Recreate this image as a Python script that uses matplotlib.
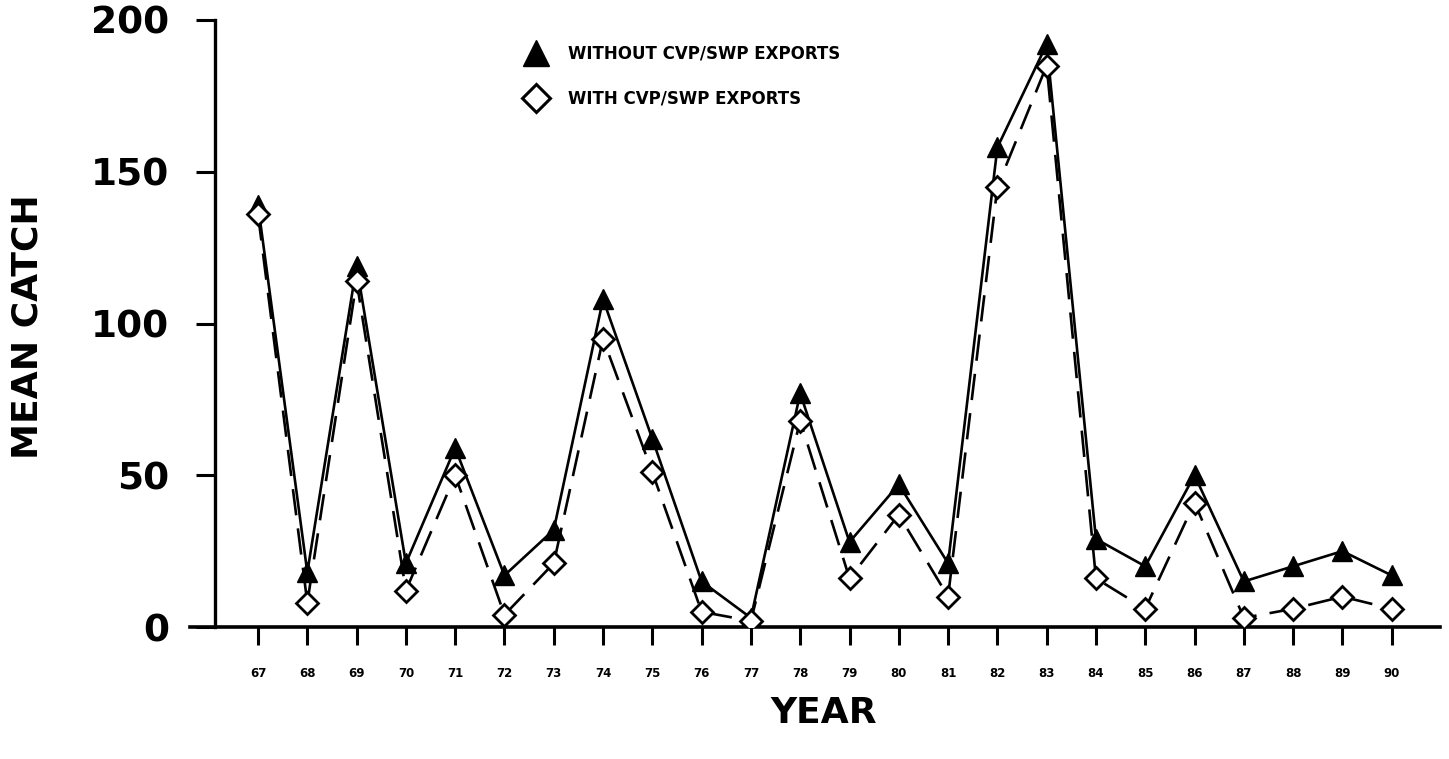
import matplotlib
matplotlib.use("Agg")
import matplotlib.pyplot as plt
from matplotlib.lines import Line2D

years = [67, 68, 69, 70, 71, 72, 73, 74, 75, 76, 77, 78,
         79, 80, 81, 82, 83, 84, 85, 86, 87, 88, 89, 90]
year_labels = [str(y) for y in years]
without_exports = [139, 18, 119, 21, 59, 17, 32, 108, 62, 15, 3, 77,
                   28, 47, 21, 158, 192, 29, 20, 50, 15, 20, 25, 17]
with_exports = [136, 8, 114, 12, 50, 4, 21, 95, 51, 5, 2, 68,
                16, 37, 10, 145, 185, 16, 6, 41, 3, 6, 10, 6]
y_ticks = [0, 50, 100, 150, 200]

W, H = 1449, 759
fig = plt.figure(figsize=(W / 100, H / 100), dpi=100)
ax = fig.add_axes([190 / W, (H - 627) / H, (1440 - 190) / W, (627 - 20) / H])

ax.plot(years, without_exports, color="black", lw=1.9, ls="-",
        marker="^", ms=15, mfc="black", mec="black", zorder=3)
ax.plot(years, with_exports, color="black", lw=1.9, ls=(0, (10, 5)),
        marker="D", ms=11, mfc="white", mec="black", mew=2, zorder=4)

ax.set_xlim(65.62, 90.98)
ax.set_ylim(0, 200)

for s in ["top", "right"]:
    ax.spines[s].set_visible(False)
ax.spines["left"].set_position(("data", 66.13))
ax.spines["left"].set_linewidth(2.4)
ax.spines["bottom"].set_linewidth(2.6)

ax.set_xticks(years)
ax.set_xticklabels(year_labels, fontsize=8.5, fontweight="bold")
ax.tick_params(axis="x", direction="out", length=13, width=2.2, pad=16)
ax.set_yticks(y_ticks)
ax.set_yticklabels([str(v) for v in y_ticks], fontsize=27, fontweight="bold")
ax.tick_params(axis="y", direction="out", length=14, width=2.2, pad=19)

fig.text(28 / W, 1 - 327 / H, "MEAN CATCH", rotation=90, ha="center", va="center",
         fontsize=26, fontweight="bold")
fig.text(824 / W, 1 - 713 / H, "YEAR", ha="center", va="center",
         fontsize=26, fontweight="bold")

handles = [
    Line2D([], [], ls="none", marker="^", ms=19, mfc="black", mec="black"),
    Line2D([], [], ls="none", marker="D", ms=14, mfc="white", mec="black", mew=2.2),
]
leg = ax.legend(handles, ["WITHOUT CVP/SWP EXPORTS", "WITH CVP/SWP EXPORTS"],
                loc="upper left", bbox_to_anchor=(508 / W, 1 - 30 / H),
                bbox_transform=fig.transFigure, frameon=False,
                prop={"size": 12, "weight": "bold"}, handletextpad=1.2,
                labelspacing=1.6, handlelength=1.5)

fig.savefig("out.png", dpi=100)
